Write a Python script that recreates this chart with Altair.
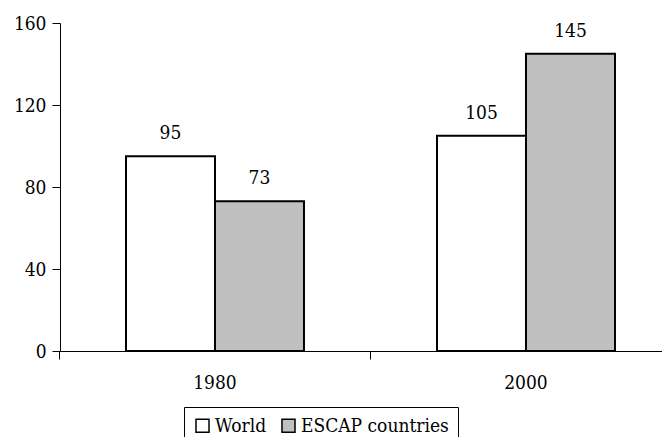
import altair as alt
import pandas as pd

years = ['1980', '2000']
series = ['World', 'ESCAP countries']
world = [95, 105]
escap = [73, 145]

rows = []
for i, yr in enumerate(years):
    rows.append({'year': yr, 'series': 'World', 'value': world[i]})
    rows.append({'year': yr, 'series': 'ESCAP countries', 'value': escap[i]})
df = pd.DataFrame(rows)

FONT = "'DejaVu Serif Condensed', 'DejaVu Serif'"
SIZE = 19

# category ticks sit between the groups, as in a spreadsheet chart
x_scale = alt.Scale(paddingInner=0.4277, paddingOuter=0.1817, align=0.584)
y_scale = alt.Scale(domain=[0, 160])

base = alt.Chart(df).encode(
    xOffset=alt.XOffset('series:N', sort=series),
    y=alt.Y('value:Q', scale=y_scale,
            axis=alt.Axis(values=[0, 40, 80, 120, 160], title=None, grid=False,
                          domainColor='black', tickColor='black', tickSize=8,
                          labelPadding=6, labelFont=FONT, labelFontSize=SIZE,
                          labelColor='black')),
)

bars = base.mark_bar(stroke='black', strokeWidth=2).encode(
    x=alt.X('year:N', scale=x_scale,
            axis=alt.Axis(title=None, labels=False, domainColor='black',
                          tickColor='black', tickSize=8, bandPosition=-0.371,
                          orient='bottom')),
    color=alt.Color('series:N', sort=series,
                    scale=alt.Scale(domain=series, range=['white', '#c0c0c0']),
                    legend=alt.Legend(title=None, orient='none', legendX=124,
                                      legendY=384, direction='horizontal',
                                      symbolType='square', symbolSize=170,
                                      symbolStrokeColor='black',
                                      symbolStrokeWidth=1.5,
                                      symbolOpacity=1,
                                      labelFont=FONT, labelFontSize=SIZE,
                                      labelColor='black', labelOffset=3,
                                      labelLimit=0,
                                      columnPadding=11, strokeColor='black',
                                      padding=9)),
)

labels = base.mark_text(dy=-17, baseline='alphabetic', font=FONT,
                        fontSize=SIZE, color='black').encode(
    x=alt.X('year:N', scale=x_scale,
            axis=alt.Axis(title=None, ticks=False, tickSize=0, domain=False,
                          labelPadding=22, labelAngle=0, labelFont=FONT,
                          labelFontSize=SIZE, labelColor='black',
                          orient='bottom')),
    text='value:Q',
)

chart = alt.layer(bars, labels).resolve_axis(x='independent').properties(
    width=602, height=328,
    autosize=alt.AutoSizeParams(type='none'),
    padding={'left': 52, 'top': 15, 'right': 0, 'bottom': 94},
).configure_view(stroke=None)

chart.save('out.html', embed_options={'renderer': 'svg', 'actions': False})
